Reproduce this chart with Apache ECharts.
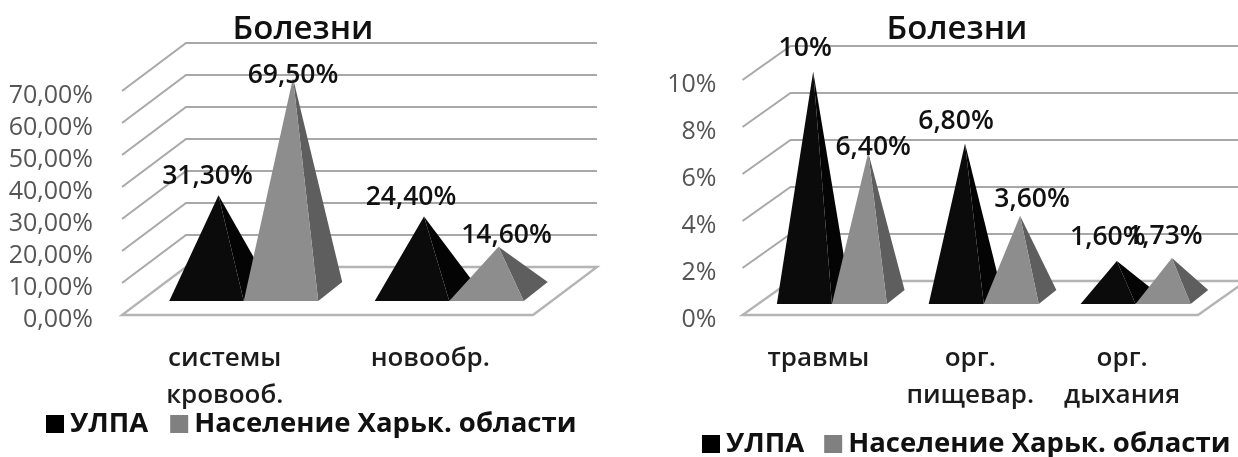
<!DOCTYPE html>
<html><head><meta charset="utf-8">
<style>html,body{margin:0;padding:0;background:#fff}#c{width:1238px;height:457px;filter:blur(0.6px)}</style>
<script src="https://cdn.jsdelivr.net/npm/echarts@6/dist/echarts.min.js"></script>
</head><body><div id="c"></div>
<script>
const seriesNames = ['УЛПА', 'Население Харьк. области'];
const title = 'Болезни';

const categoriesA = ['системы\nкровооб.', 'новообр.'];
const ulpaA = [31.3, 24.4];
const regionA = [69.5, 14.6];
const ticksA = [0, 10, 20, 30, 40, 50, 60, 70];

const categoriesB = ['травмы', 'орг.\nпищевар.', 'орг.\nдыхания'];
const ulpaB = [10, 6.8, 1.6];
const regionB = [6.4, 3.6, 1.73];
const ticksB = [0, 2, 4, 6, 8, 10];

const labelsA = [['31,30%', '24,40%'], ['69,50%', '14,60%']];
const labelsB = [['10%', '6,80%', '1,60%'], ['6,40%', '3,60%', '1,73%']];

/* layout */
const colors = [{front:'#0b0b0b', side:'#040404', legend:'#000000'}, {front:'#8d8d8d', side:'#5e5e5e', legend:'#808080'}];
const FONT = '"Open Sans", sans-serif';
const charts = [
  {wall:[64,48], depth:[24,19], shift:19, lift:14, nudge:[[[-11,-19],[-13,-19]],[[0,-3],[8,-11]]], scale:.96},
  {wall:[48,34], depth:[17.6,14], shift:13.5, lift:11, nudge:[[[-8,-23],[-9,-22],[-9,-23]],[[5,-5],[12,-16],[-7,-22]]], scale:.96}
];
const BAR = .3625;

function wallSeries(i, ticks) {
  const c = charts[i];
  return {
    type:'custom', name:'wall'+i, xAxisIndex:i, yAxisIndex:i, z:1, silent:true,
    data: ticks.map(t => [0, t]),
    encode:{x:0, y:1},
    renderItem(params, api) {
      const g = params.coordSys;
      const y = api.coord([0, api.value(1)])[1];
      const x0 = g.x, x1 = g.x + g.width, [dx, dy] = c.wall;
      const line = {stroke:'#a8a8a8', lineWidth:2, fill:null};
      if (api.value(1) === 0) {
        return {type:'polygon', z2:5, shape:{points:[[x0,y],[x1,y],[x1+dx,y-dy],[x0+dx,y-dy]]}, style:{fill:'#fff', stroke:'#b4b4b4', lineWidth:2.4}};
      }
      return {type:'polyline', shape:{points:[[x0,y],[x0+dx,y-dy],[x1+dx,y-dy]]}, style:line};
    }
  };
}

function pyramidSeries(i, s, categories, values, labels) {
  const c = charts[i], col = colors[s];
  return {
    type:'custom', name:seriesNames[s], xAxisIndex:i, yAxisIndex:i, z:2+s, silent:true,
    itemStyle:{color:col.legend},
    data: values.map((v, k) => [k, v]),
    encode:{x:0, y:1},
    renderItem(params, api) {
      const k = api.value(0), v = api.value(1);
      const [cx, yv] = api.coord([k, v]);
      const y0 = api.coord([k, 0])[1];
      const w = api.size([1, 0])[0] * BAR;
      const [dx, dy] = c.depth;
      const xL = cx + c.shift + (s - 1) * w, xR = xL + w, yB = y0 - c.lift;
      const apex = [xL + (w + dx) / 2, yB - dy / 2 - (y0 - yv) * c.scale];
      const n = c.nudge[s][k];
      return {type:'group', children:[
        {type:'polygon', shape:{points:[[xR,yB],[xR+dx,yB-dy],apex]}, style:{fill:col.side}},
        {type:'polygon', shape:{points:[[xL,yB],[xR,yB],apex]}, style:{fill:col.front}},
        {type:'text', z2:50, style:{text:labels[s][k], x:apex[0]+n[0], y:apex[1]+n[1], align:'center', verticalAlign:'middle', fill:'#111', font:'600 26.5px '+FONT}}
      ]};
    }
  };
}

function legend(left, top, gap) {
  return {left, top, orient:'horizontal', data:seriesNames, icon:'rect', itemWidth:18, itemHeight:18, itemGap:gap, selectedMode:false,
    textStyle:{fontFamily:FONT, fontWeight:700, fontSize:27.5, color:'#111', padding:[0,0,0,1]}};
}

const axisX = (grid, cats) => ({type:'category', gridIndex:grid, data:cats,
  axisLine:{show:false}, axisTick:{show:false}, splitLine:{show:false},
  axisLabel:{margin:25, lineHeight:37, fontFamily:FONT, fontWeight:600, fontSize:26, color:'#1c1c1c', interval:0}});
const axisY = (grid, max, interval, margin, fmt) => ({type:'value', gridIndex:grid, min:0, max, interval,
  axisLine:{show:false}, axisTick:{show:false}, splitLine:{show:false},
  axisLabel:{margin, formatter:v => '{t|' + fmt(v) + '}',
    rich:{t:{fontFamily:FONT, fontSize:25, color:'#555', padding:[9,0,0,0]}}}});

const chart = echarts.init(document.getElementById('c'), null, {renderer:'canvas'});
chart.setOption({
  animation:false,
  backgroundColor:'#fff',
  title:[
    {text:title, left:298, top:8, textAlign:'center', textStyle:{fontFamily:FONT, fontWeight:600, fontSize:33, color:'#111'}},
    {text:title, left:952, top:8, textAlign:'center', textStyle:{fontFamily:FONT, fontWeight:600, fontSize:33, color:'#111'}}
  ],
  legend:[legend(41, 405, 22), legend(697, 425, 20)],
  grid:[
    {left:122, top:91, width:411, height:224},
    {left:742.5, top:80, width:455.5, height:235}
  ],
  xAxis:[axisX(0, categoriesA), axisX(1, categoriesB)],
  yAxis:[
    axisY(0, 70, 10, 29, v => v.toFixed(2).replace('.', ',') + '%'),
    axisY(1, 10, 2, 26, v => v + '%')
  ],
  series:[
    wallSeries(0, ticksA), wallSeries(1, ticksB),
    pyramidSeries(0, 0, categoriesA, ulpaA, labelsA),
    pyramidSeries(0, 1, categoriesA, regionA, labelsA),
    pyramidSeries(1, 0, categoriesB, ulpaB, labelsB),
    pyramidSeries(1, 1, categoriesB, regionB, labelsB)
  ]
});
</script></body></html>
